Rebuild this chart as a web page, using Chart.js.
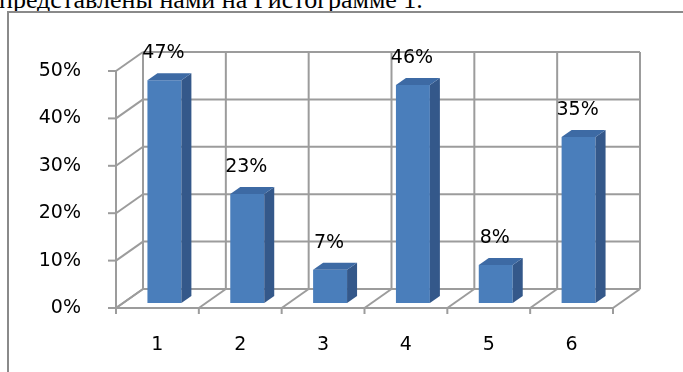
<!DOCTYPE html>
<html>
<head>
<meta charset="utf-8">
<script src="https://cdn.jsdelivr.net/npm/chart.js@4.4.1/dist/chart.umd.min.js"></script>
<style>
  html, body { margin: 0; padding: 0; background: #fff; width: 683px; height: 372px; overflow: hidden; position: relative; }
  #caption { position: absolute; left: -1px; top: -13px; font: 26px/26px "Liberation Serif", "Times New Roman", serif; color: #000; white-space: nowrap; }
  #frame { position: absolute; left: 7px; top: 11px; width: 720px; height: 420px; border-left: 2px solid #8a8a8a; border-top: 2px solid #8a8a8a; }
  #wrap { position: absolute; left: 0; top: 0; width: 683px; height: 372px; }
</style>
</head>
<body>
<div id="caption">представлены нами на Гистограмме 1.</div>
<div id="frame"></div>
<div id="wrap"><canvas id="chart" width="683" height="372"></canvas></div>
<script>
// Histogram 1: share of answers per item, in percent
const categories = ['1', '2', '3', '4', '5', '6'];
const shares = [47, 23, 7, 46, 8, 35];
const yTicks = [0, 10, 20, 30, 40, 50];

// oblique 3-D look: floor/back-wall depth, bar placement and bar depth
const FLOOR = { dx: 27, dy: -19 };
const BAR_OFF = { dx: 7, dy: -5 };
const BAR_DEPTH = { dx: 10, dy: -7 };
const GRID = '#9c9c9c';
const FRONT = '#4a7ebb';
const SIDE = '#34588a';
const TOP = '#3d6aa4';
const FONT = { family: 'DejaVu Sans', size: 19 };

const box3d = {
  id: 'box3d',
  beforeDatasetsDraw(chart) {
    const { ctx, chartArea: a, scales: { x, y } } = chart;
    const yb = y.getPixelForValue(yTicks[0]);
    const yt = y.getPixelForValue(yTicks[yTicks.length - 1]);
    const cw = (a.right - a.left) / categories.length;
    const bounds = categories.map((c, i) => x.getPixelForValue(i) - cw / 2);
    bounds.push(x.getPixelForValue(categories.length - 1) + cw / 2);
    const line = (x1, y1, x2, y2) => { ctx.beginPath(); ctx.moveTo(x1, y1); ctx.lineTo(x2, y2); ctx.stroke(); };
    ctx.save();
    ctx.strokeStyle = GRID;
    ctx.lineWidth = 2;
    // back wall + left wall
    yTicks.forEach(v => {
      const py = y.getPixelForValue(v);
      line(a.left + FLOOR.dx, py + FLOOR.dy, a.right + FLOOR.dx, py + FLOOR.dy);
      line(a.left, py, a.left + FLOOR.dx, py + FLOOR.dy);
      line(a.left - 8, py, a.left, py);
    });
    bounds.forEach(bx => {
      line(bx + FLOOR.dx, yb + FLOOR.dy, bx + FLOOR.dx, yt + FLOOR.dy);
      line(bx, yb, bx + FLOOR.dx, yb + FLOOR.dy);
      line(bx, yb, bx, yb + 6);
    });
    // front edges
    line(a.left, yb, a.right, yb);
    line(a.left, yb + 1, a.left, yt);
    ctx.restore();
  },
  beforeDatasetDraw(chart) {
    chart.ctx.save();
    chart.ctx.translate(BAR_OFF.dx, BAR_OFF.dy);
  },
  afterDatasetDraw(chart) {
    chart.ctx.restore();
  },
  afterDatasetsDraw(chart) {
    const { ctx } = chart;
    const meta = chart.getDatasetMeta(0);
    const poly = pts => {
      ctx.beginPath();
      pts.forEach((p, k) => k ? ctx.lineTo(p[0], p[1]) : ctx.moveTo(p[0], p[1]));
      ctx.closePath();
      ctx.fill();
    };
    ctx.save();
    meta.data.forEach((bar, i) => {
      const { x: cx, y: top, base, width } = bar.getProps(['x', 'y', 'base', 'width'], true);
      const l = cx - width / 2 + BAR_OFF.dx, r = cx + width / 2 + BAR_OFF.dx;
      const t = top + BAR_OFF.dy, b = base + BAR_OFF.dy;
      ctx.fillStyle = SIDE;
      poly([[r, t], [r + BAR_DEPTH.dx, t + BAR_DEPTH.dy], [r + BAR_DEPTH.dx, b + BAR_DEPTH.dy], [r, b]]);
      ctx.fillStyle = TOP;
      poly([[l, t], [l + BAR_DEPTH.dx, t + BAR_DEPTH.dy], [r + BAR_DEPTH.dx, t + BAR_DEPTH.dy], [r, t]]);
      ctx.fillStyle = '#000';
      ctx.font = `${FONT.size}px "${FONT.family}"`;
      ctx.textAlign = 'center';
      ctx.textBaseline = 'middle';
      ctx.fillText(shares[i] + '%', (l + r) / 2 - 1, t - 27);
    });
    ctx.restore();
  }
};

new Chart(document.getElementById('chart'), {
  type: 'bar',
  data: {
    labels: categories,
    datasets: [{
      data: shares,
      backgroundColor: FRONT,
      borderWidth: 0,
      categoryPercentage: 1,
      barPercentage: 0.41,
      clip: false
    }]
  },
  options: {
    responsive: false,
    animation: false,
    devicePixelRatio: 1,
    layout: { padding: { top: 71, right: 70, left: 0, bottom: 0 } },
    plugins: { legend: { display: false }, tooltip: { enabled: false } },
    scales: {
      x: {
        offset: true,
        grid: { display: false },
        border: { display: false },
        ticks: { padding: 18, color: '#000', font: FONT },
        afterFit: s => { s.height = 64; }
      },
      y: {
        min: yTicks[0],
        max: yTicks[yTicks.length - 1],
        grid: { display: false },
        border: { display: false },
        afterBuildTicks: s => { s.ticks = yTicks.map(v => ({ value: v })); },
        ticks: { padding: 27, color: '#000', font: FONT, callback: v => v + '%' },
        afterFit: s => { s.width = 116; }
      }
    }
  },
  plugins: [box3d]
});
</script>
</body>
</html>
